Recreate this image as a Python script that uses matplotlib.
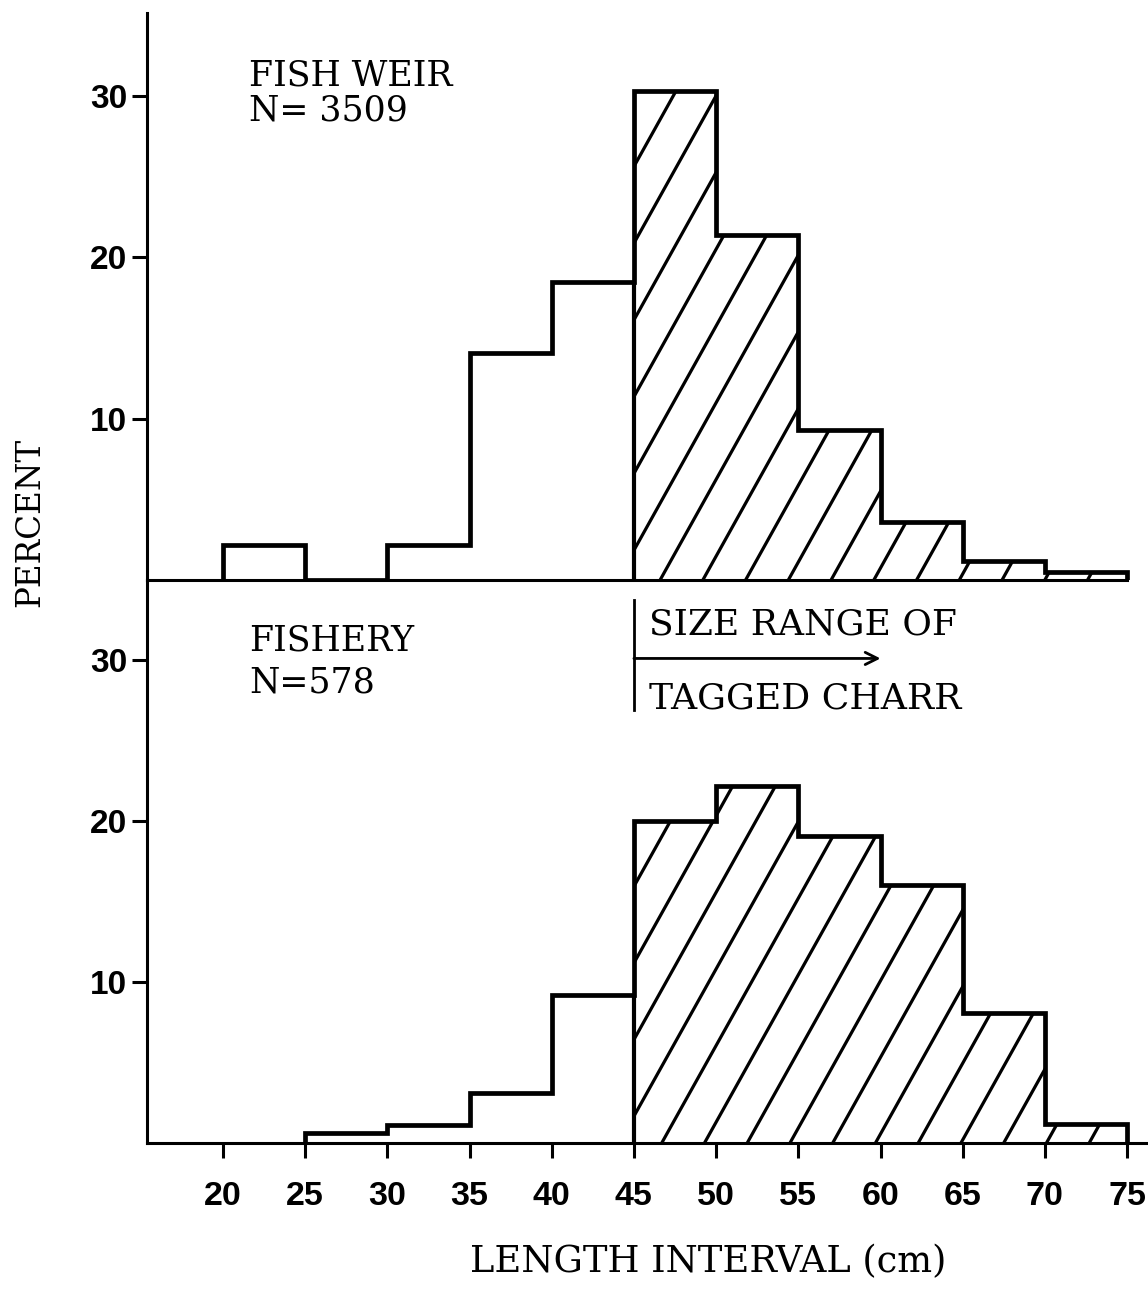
import numpy as np
import matplotlib.pyplot as plt

# length classes (cm) and percent of catch in each 5 cm interval
edges = [20, 25, 30, 35, 40, 45, 50, 55, 60, 65, 70, 75]
weir_pct = [2.2, 0.0, 2.2, 14.1, 18.5, 30.3, 21.4, 9.3, 3.6, 1.2, 0.5]
fishery_pct = [0.0, 0.6, 1.1, 3.1, 9.2, 20.0, 22.2, 19.1, 16.0, 8.1, 1.2]
weir_label = ["FISH WEIR", "N= 3509"]
fishery_label = ["FISHERY", "N=578"]
tag_min = 45  # smallest length that was tagged
y_ticks = [10, 20, 30]
x_ticks = [20, 25, 30, 35, 40, 45, 50, 55, 60, 65, 70, 75]

SERIF = ["DejaVu Serif"]
NUMS = ["Liberation Sans"]

fig = plt.figure(figsize=(11.48, 12.91), dpi=100)
ax_top = fig.add_axes([0.128, 0.5507, 0.872, 0.4392], facecolor="none")
ax_bot = fig.add_axes([0.128, 0.1146, 0.872, 0.4361], facecolor="none")
XLIM = (15.38, 76.27)


def hatch_tagged(ax, vals, ymax):
    """Diagonal hatching under the bars at or above the tagging size."""
    e = np.array(edges)
    v = np.array(vals)
    i0 = int(np.searchsorted(e, tag_min))
    patch = ax.stairs(v[i0:], e[i0:], baseline=0, fill=True,
                      facecolor="none", edgecolor="none")
    slope = 1.83      # rise in percent per cm
    step = 2.6        # cm between hatch lines along the baseline
    for x0 in np.arange(tag_min - ymax / slope, e[-1] + step, step):
        ln, = ax.plot([x0, x0 + ymax / slope], [0, ymax], color="k",
                      lw=2.3, solid_capstyle="butt")
        ln.set_clip_path(patch)


def panel(ax, vals, ylim, label, label_ys):
    e = np.array(edges)
    v = np.array(vals)
    first = np.argmax(v > 0)
    hatch_tagged(ax, vals, ylim)
    ax.stairs(v[first:], e[first:], baseline=0, color="k", lw=3.4)
    # divider at the start of the tagged size range
    i0 = int(np.searchsorted(e, tag_min))
    ax.vlines(tag_min, 0, min(v[i0 - 1], v[i0]), color="k", lw=3.0)
    ax.set_xlim(*XLIM)
    ax.set_ylim(0, ylim)
    for s in ["top", "right"]:
        ax.spines[s].set_visible(False)
    for s in ["left", "bottom"]:
        ax.spines[s].set_linewidth(2.2)
    ax.set_yticks(y_ticks)
    ax.set_yticklabels([str(t) for t in y_ticks], family=NUMS,
                       fontweight="bold", fontsize=24)
    ax.tick_params(axis="y", direction="out", length=11, width=2.2, pad=3)
    for line, y in zip(label, label_ys):
        ax.text(21.6, y, line, family=SERIF, fontsize=25,
                va="center", ha="left")


panel(ax_top, weir_pct, 35.15, weir_label, [31.3, 29.1])
ax_top.set_xticks([])
ax_top.spines["bottom"].set_bounds(XLIM[0], edges[-1])

panel(ax_bot, fishery_pct, 34.97, fishery_label, [31.2, 28.6])
ax_bot.set_xticks(x_ticks)
ax_bot.set_xticklabels([str(t) for t in x_ticks], family=NUMS,
                       fontweight="bold", fontsize=24.5)
ax_bot.tick_params(axis="x", direction="out", length=11, width=2.2, pad=16)

# size range of tagged charr
ax_bot.plot([tag_min, tag_min], [26.9, 33.7], color="k", lw=2.0)
ax_bot.annotate("", xy=(60, 30.1), xytext=(tag_min, 30.1),
                arrowprops=dict(arrowstyle="->", lw=2.0, color="k",
                                mutation_scale=22, shrinkA=0, shrinkB=0))
ax_bot.text(45.9, 32.2, "SIZE RANGE OF", family=SERIF, fontsize=26,
            va="center", ha="left")
ax_bot.text(45.9, 27.6, "TAGGED CHARR", family=SERIF, fontsize=26,
            va="center", ha="left")

fig.text(0.026, 0.595, "PERCENT", family=SERIF, fontsize=23.5,
         rotation=90, ha="center", va="center")
fig.text(0.617, 0.022, "LENGTH INTERVAL (cm)", family=SERIF, fontsize=26.5,
         ha="center", va="center")

fig.savefig("out.png", dpi=100)
